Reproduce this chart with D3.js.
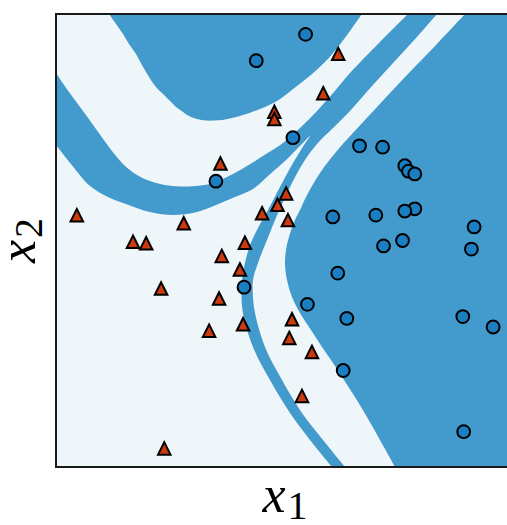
<!DOCTYPE html>
<html><head><meta charset="utf-8">
<script src="https://cdn.jsdelivr.net/npm/d3@7"></script>
<style>html,body{margin:0;padding:0;background:#fff;}svg{display:block;}</style>
</head><body>
<script>
// ---- data (arbitrary units 0..100 on both axes) ----
const circlesX = [44.2,55.1,52.3,35.3,67.0,72.1,77.0,77.8,79.2,79.2,77.0,92.3,70.6,61.1,76.5,72.3,91.7,62.2,41.5,55.5,64.2,89.8,96.5,63.4,90.0];
const circlesY = [89.7,95.5,72.7,63.1,70.9,70.6,66.5,65.3,64.7,57.0,56.5,53.0,55.6,55.2,50.0,48.8,48.1,42.8,39.7,35.9,32.8,33.2,30.9,21.3,7.8];
const trianglesX = [62.3,59.0,48.2,48.2,36.3,4.6,28.2,50.8,48.9,45.5,51.2,17.0,19.9,41.7,36.6,40.6,23.2,36.0,41.3,33.8,52.1,51.5,56.5,54.3,23.9];
const trianglesY = [91.2,82.5,78.4,76.8,67.0,55.6,53.8,60.4,57.9,56.0,54.5,49.7,49.4,49.5,46.6,43.6,39.4,37.2,31.5,30.1,32.6,28.5,25.4,15.7,4.1];

// decision-region boundaries
const regionA = [[11.7,100],[13.25,97.79],[14.79,95.58],[16.11,93.38],[17.66,91.17],[18.98,88.74],[20.53,86.09],[22.08,83.89],[23.62,82.34],[25.17,80.79],[26.49,79.47],[28.04,78.37],[29.36,77.48],[31.13,76.82],[33.11,76.49],[35.10,76.49],[37.31,76.71],[40.62,77.48],[45.03,79.03],[48.79,80.79],[52.32,83.44],[56.07,86.39],[59.38,89.40],[62.25,92.72],[64.90,96.25],[67.55,100]];
const forkUpper = [[0,86.98],[2.87,82.78],[5.96,78.59],[8.83,74.61],[11.70,70.64],[14.79,66.89],[17.88,64.46],[20.75,63.13],[24.06,62.25],[27.37,61.92],[30.68,62.03],[34.0,62.47],[37.75,64.02],[42.16,66.45],[46.36,69.09],[50.11,71.52],[53.86,74.83],[57.62,78.59],[61.37,82.78],[64.90,86.98],[71.30,93.60],[77.70,100]];
const forkRight = [[84.11,100],[79.47,94.70],[74.61,89.40],[69.76,84.11],[64.90,78.59],[61.15,74.83],[57.62,71.30],[54.53,67.11],[51.66,61.81],[49.01,56.07],[46.58,50.11],[44.59,45.03],[43.49,41.28],[43.49,37.53],[43.93,34.0],[46.14,26.49],[49.89,19.21],[54.30,11.92],[58.94,5.96],[63.80,0]];
const forkLower = [[60.93,0],[56.07,5.96],[51.66,11.92],[47.24,19.21],[43.49,26.49],[41.28,34.0],[40.95,37.75],[41.06,41.28],[41.72,45.03],[42.83,49.01],[44.59,52.76],[46.80,56.73],[49.45,61.81],[52.32,67.11],[54.75,71.08],[56.07,73.07],[53.86,70.86],[50.55,67.55],[46.80,64.24],[43.49,61.37],[39.51,59.60],[35.32,57.84],[31.13,56.29],[25.83,55.63],[20.75,56.29],[14.79,58.28],[11.48,59.60],[7.51,62.03],[3.31,66.89],[0,71.08]];
const regionC = [[74.83,0],[71.52,5.96],[68.65,11.04],[66.0,15.45],[63.58,19.21],[61.15,22.96],[58.72,26.49],[56.29,30.24],[53.86,34.0],[52.10,37.53],[50.99,41.28],[50.55,45.03],[50.77,47.90],[51.43,50.77],[52.76,54.53],[53.86,56.73],[55.41,60.04],[58.28,64.90],[61.81,69.54],[65.34,73.51],[71.08,79.69],[77.48,86.53],[83.89,93.16],[90.29,100]];

const xLabel = ["x", "1"];
const yLabel = ["x", "2"];

// ---- layout ----
const W = 507, H = 525;
const L = 56, T = 14, S = 453;
const lightCol = "#eef6fa", blueCol = "#439acd";

const x = d3.scaleLinear().domain([0,100]).range([L, L+S]);
const y = d3.scaleLinear().domain([0,100]).range([T+S, T]);

const svg = d3.select("body").append("svg").attr("width", W).attr("height", H);
svg.append("defs").append("clipPath").attr("id","clip")
  .append("rect").attr("x",L).attr("y",T).attr("width",S).attr("height",S);

const g = svg.append("g").attr("clip-path","url(#clip)");
g.append("rect").attr("x",L).attr("y",T).attr("width",S).attr("height",S).attr("fill",lightCol);

const curve = d3.line().x(d=>x(d[0])).y(d=>y(d[1])).curve(d3.curveCatmullRom.alpha(0.5));
const pt = (a,b)=>`L${x(a)},${y(b)}`;
const cont = pts => curve(pts).replace(/^M/,"L");

g.append("path").attr("fill",blueCol).attr("d", curve(regionA) + "Z");
g.append("path").attr("fill",blueCol)
  .attr("d", curve(forkUpper) + cont(forkRight) + cont(forkLower) + "Z");
g.append("path").attr("fill",blueCol)
  .attr("d", curve(regionC) + pt(100,100) + pt(100,0) + "Z");

// markers
const circ = d3.range(circlesX.length).map(i=>({x:circlesX[i], y:circlesY[i]}));
const tri = d3.range(trianglesX.length).map(i=>({x:trianglesX[i], y:trianglesY[i]}));

const mk = svg.append("g");
mk.selectAll("circle").data(circ).join("circle")
  .attr("cx",d=>x(d.x)).attr("cy",d=>y(d.y)).attr("r",6.4)
  .attr("fill","#1a7fc2").attr("stroke","#000").attr("stroke-width",2);
const th = 12.5;
mk.selectAll("path.tri").data(tri).join("path").attr("class","tri")
  .attr("d", d=>{const cx=x(d.x), cy=y(d.y);
    return `M${cx},${cy-th/2}L${cx-th/2},${cy+th/2}L${cx+th/2},${cy+th/2}Z`;})
  .attr("fill","#cc3a10").attr("stroke","#000").attr("stroke-width",2).attr("stroke-linejoin","miter");

// frame
svg.append("rect").attr("x",L).attr("y",T).attr("width",S).attr("height",S)
  .attr("fill","none").attr("stroke","#1a1a1a").attr("stroke-width",2);

// axis labels
const fam = "'Liberation Serif','DejaVu Serif',serif";
const xl = svg.append("text").attr("x", 285).attr("y", 512)
  .attr("text-anchor","middle").attr("font-family",fam).attr("font-size",52).attr("fill","#000");
xl.append("tspan").attr("font-style","italic").text(xLabel[0]);
xl.append("tspan").attr("font-size",40).attr("dx",2).attr("dy",7).text(xLabel[1]);

const yl = svg.append("text").attr("transform",`translate(35,${T+S/2}) rotate(-90)`)
  .attr("text-anchor","middle").attr("font-family",fam).attr("font-size",52).attr("fill","#000");
yl.append("tspan").attr("font-style","italic").text(yLabel[0]);
yl.append("tspan").attr("font-size",40).attr("dx",2).attr("dy",7).text(yLabel[1]);
</script>
</body></html>
